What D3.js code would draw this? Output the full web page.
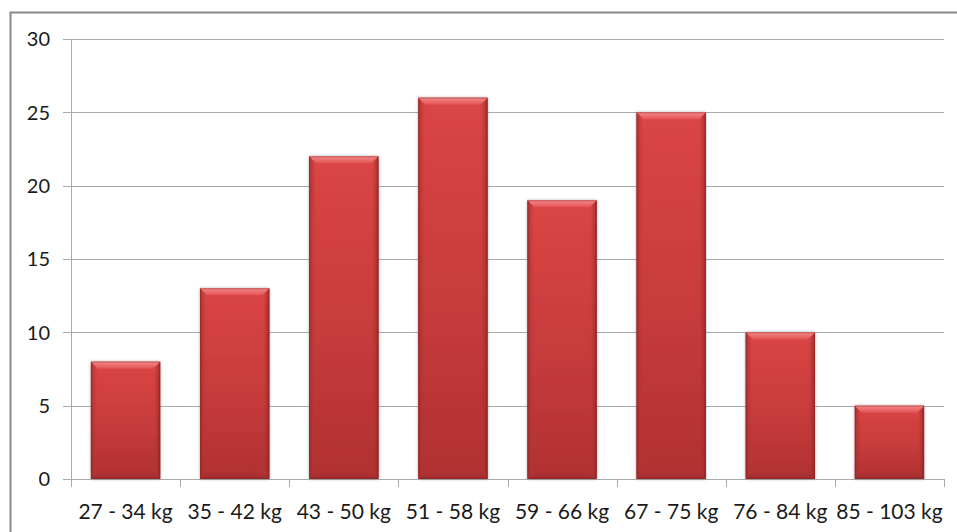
<!DOCTYPE html>
<html>
<head>
<meta charset="utf-8">
<script src="https://cdn.jsdelivr.net/npm/d3@7/dist/d3.min.js"></script>
<style>
  html, body { margin: 0; padding: 0; background: #fff; }
  svg { display: block; }
  text { font-family: Lato, "Open Sans", sans-serif; fill: #1a1a1a; }
</style>
</head>
<body>
<svg id="chart" width="957" height="532"></svg>
<script>
// Weight classes and how many people fall into each
const categories = ["27 - 34 kg", "35 - 42 kg", "43 - 50 kg", "51 - 58 kg",
                    "59 - 66 kg", "67 - 75 kg", "76 - 84 kg", "85 - 103 kg"];
const counts = [8, 13, 22, 26, 19, 25, 10, 5];
const yTicks = [0, 5, 10, 15, 20, 25, 30];

const svg = d3.select("#chart");
const W = 957, H = 532;
const plot = { left: 71, right: 944, top: 39, bottom: 479 };
const gridColor = "#ababab";

// outer frame
svg.append("rect")
  .attr("x", 10.5).attr("y", 12.5)
  .attr("width", W + 20).attr("height", H + 20)
  .attr("fill", "none").attr("stroke", "#878787").attr("stroke-width", 2);

const x = d3.scaleBand()
  .domain(categories)
  .range([plot.left, plot.right])
  .paddingInner(0.365)
  .paddingOuter(0.1825);

const y = d3.scaleLinear().domain([0, 30]).range([plot.bottom, plot.top]);

// gradients for the bevelled bars
const defs = svg.append("defs");
const main = defs.append("linearGradient").attr("id", "barMain")
  .attr("x1", 0).attr("y1", 0).attr("x2", 0).attr("y2", 1);
main.append("stop").attr("offset", "0%").attr("stop-color", "#db4545");
main.append("stop").attr("offset", "55%").attr("stop-color", "#c73b3b");
main.append("stop").attr("offset", "100%").attr("stop-color", "#b03131");

const topG = defs.append("linearGradient").attr("id", "barTop")
  .attr("x1", 0).attr("y1", 0).attr("x2", 0).attr("y2", 1);
topG.append("stop").attr("offset", "0%").attr("stop-color", "#f58a8a");
topG.append("stop").attr("offset", "100%").attr("stop-color", "#e25252");

const leftG = defs.append("linearGradient").attr("id", "barLeft")
  .attr("x1", 0).attr("y1", 0).attr("x2", 1).attr("y2", 0);
leftG.append("stop").attr("offset", "0%").attr("stop-color", "#9c2a2a");
leftG.append("stop").attr("offset", "100%").attr("stop-color", "#c13a3a").attr("stop-opacity", 0);

const rightG = defs.append("linearGradient").attr("id", "barRight")
  .attr("x1", 1).attr("y1", 0).attr("x2", 0).attr("y2", 0);
rightG.append("stop").attr("offset", "0%").attr("stop-color", "#8e2424");
rightG.append("stop").attr("offset", "100%").attr("stop-color", "#c13a3a").attr("stop-opacity", 0);

const botG = defs.append("linearGradient").attr("id", "barBottom")
  .attr("x1", 0).attr("y1", 1).attr("x2", 0).attr("y2", 0);
botG.append("stop").attr("offset", "0%").attr("stop-color", "#8f2626");
botG.append("stop").attr("offset", "100%").attr("stop-color", "#a82f2f").attr("stop-opacity", 0.3);

const shadow = defs.append("filter").attr("id", "barShadow")
  .attr("x", "-20%").attr("y", "-20%").attr("width", "140%").attr("height", "140%");
shadow.append("feDropShadow").attr("dx", 0).attr("dy", 0)
  .attr("stdDeviation", 1.4).attr("flood-color", "#555").attr("flood-opacity", 0.55);

// horizontal gridlines with left tick stubs
svg.append("g").selectAll("line").data(yTicks).join("line")
  .attr("x1", plot.left - 8).attr("x2", plot.right)
  .attr("y1", d => Math.round(y(d)) + 0.5).attr("y2", d => Math.round(y(d)) + 0.5)
  .attr("stroke", gridColor).attr("stroke-width", 1);

// vertical axis
svg.append("line")
  .attr("x1", plot.left + 0.5).attr("x2", plot.left + 0.5)
  .attr("y1", plot.top).attr("y2", plot.bottom + 8)
  .attr("stroke", gridColor);

// category boundary ticks below the axis
const bounds = d3.range(categories.length + 1).map(i => plot.left + i * x.step());
svg.append("g").selectAll("line").data(bounds).join("line")
  .attr("x1", d => Math.round(d) + 0.5).attr("x2", d => Math.round(d) + 0.5)
  .attr("y1", plot.bottom).attr("y2", plot.bottom + 8)
  .attr("stroke", gridColor);

// y tick labels
svg.append("g").selectAll("text").data(yTicks).join("text")
  .attr("x", 50).attr("y", d => y(d))
  .attr("text-anchor", "end").attr("dy", "0.36em")
  .style("font-size", "20px")
  .text(d => d);

// x tick labels
svg.append("g").selectAll("text").data(categories).join("text")
  .attr("x", d => x(d) + x.bandwidth() / 2).attr("y", 519)
  .attr("text-anchor", "middle")
  .style("font-size", "21px")
  .text(d => d);

// bars with bevelled edges
const b = 7;
const bars = svg.append("g").selectAll("g").data(categories.map((c, i) => ({ c, v: counts[i] })))
  .join("g");

bars.append("rect")
  .attr("x", d => x(d.c)).attr("y", d => y(d.v))
  .attr("width", x.bandwidth()).attr("height", d => y(0) - y(d.v))
  .attr("fill", "url(#barMain)")
  .attr("filter", "url(#barShadow)");

const poly = pts => pts.map(p => p.join(",")).join(" ");
bars.append("polygon").attr("fill", "url(#barLeft)").attr("opacity", 0.8)
  .attr("points", d => {
    const x0 = x(d.c), t = y(d.v), bt = y(0);
    return poly([[x0, t], [x0 + b, t + b], [x0 + b, bt - b], [x0, bt]]);
  });
bars.append("polygon").attr("fill", "url(#barRight)").attr("opacity", 0.85)
  .attr("points", d => {
    const x1 = x(d.c) + x.bandwidth(), t = y(d.v), bt = y(0);
    return poly([[x1, t], [x1 - b, t + b], [x1 - b, bt - b], [x1, bt]]);
  });
bars.append("polygon").attr("fill", "url(#barBottom)").attr("opacity", 0.7)
  .attr("points", d => {
    const x0 = x(d.c), x1 = x0 + x.bandwidth(), bt = y(0);
    return poly([[x0, bt], [x0 + b, bt - b], [x1 - b, bt - b], [x1, bt]]);
  });
bars.append("polygon").attr("fill", "url(#barTop)")
  .attr("points", d => {
    const x0 = x(d.c), x1 = x0 + x.bandwidth(), t = y(d.v);
    return poly([[x0, t], [x1, t], [x1 - b, t + b], [x0 + b, t + b]]);
  });
bars.append("rect")
  .attr("x", d => x(d.c) + 0.5).attr("y", d => y(d.v) + 0.5)
  .attr("width", x.bandwidth() - 1).attr("height", d => y(0) - y(d.v) - 1)
  .attr("fill", "none").attr("stroke", "#8a2222").attr("stroke-opacity", 0.45);
</script>
</body>
</html>
